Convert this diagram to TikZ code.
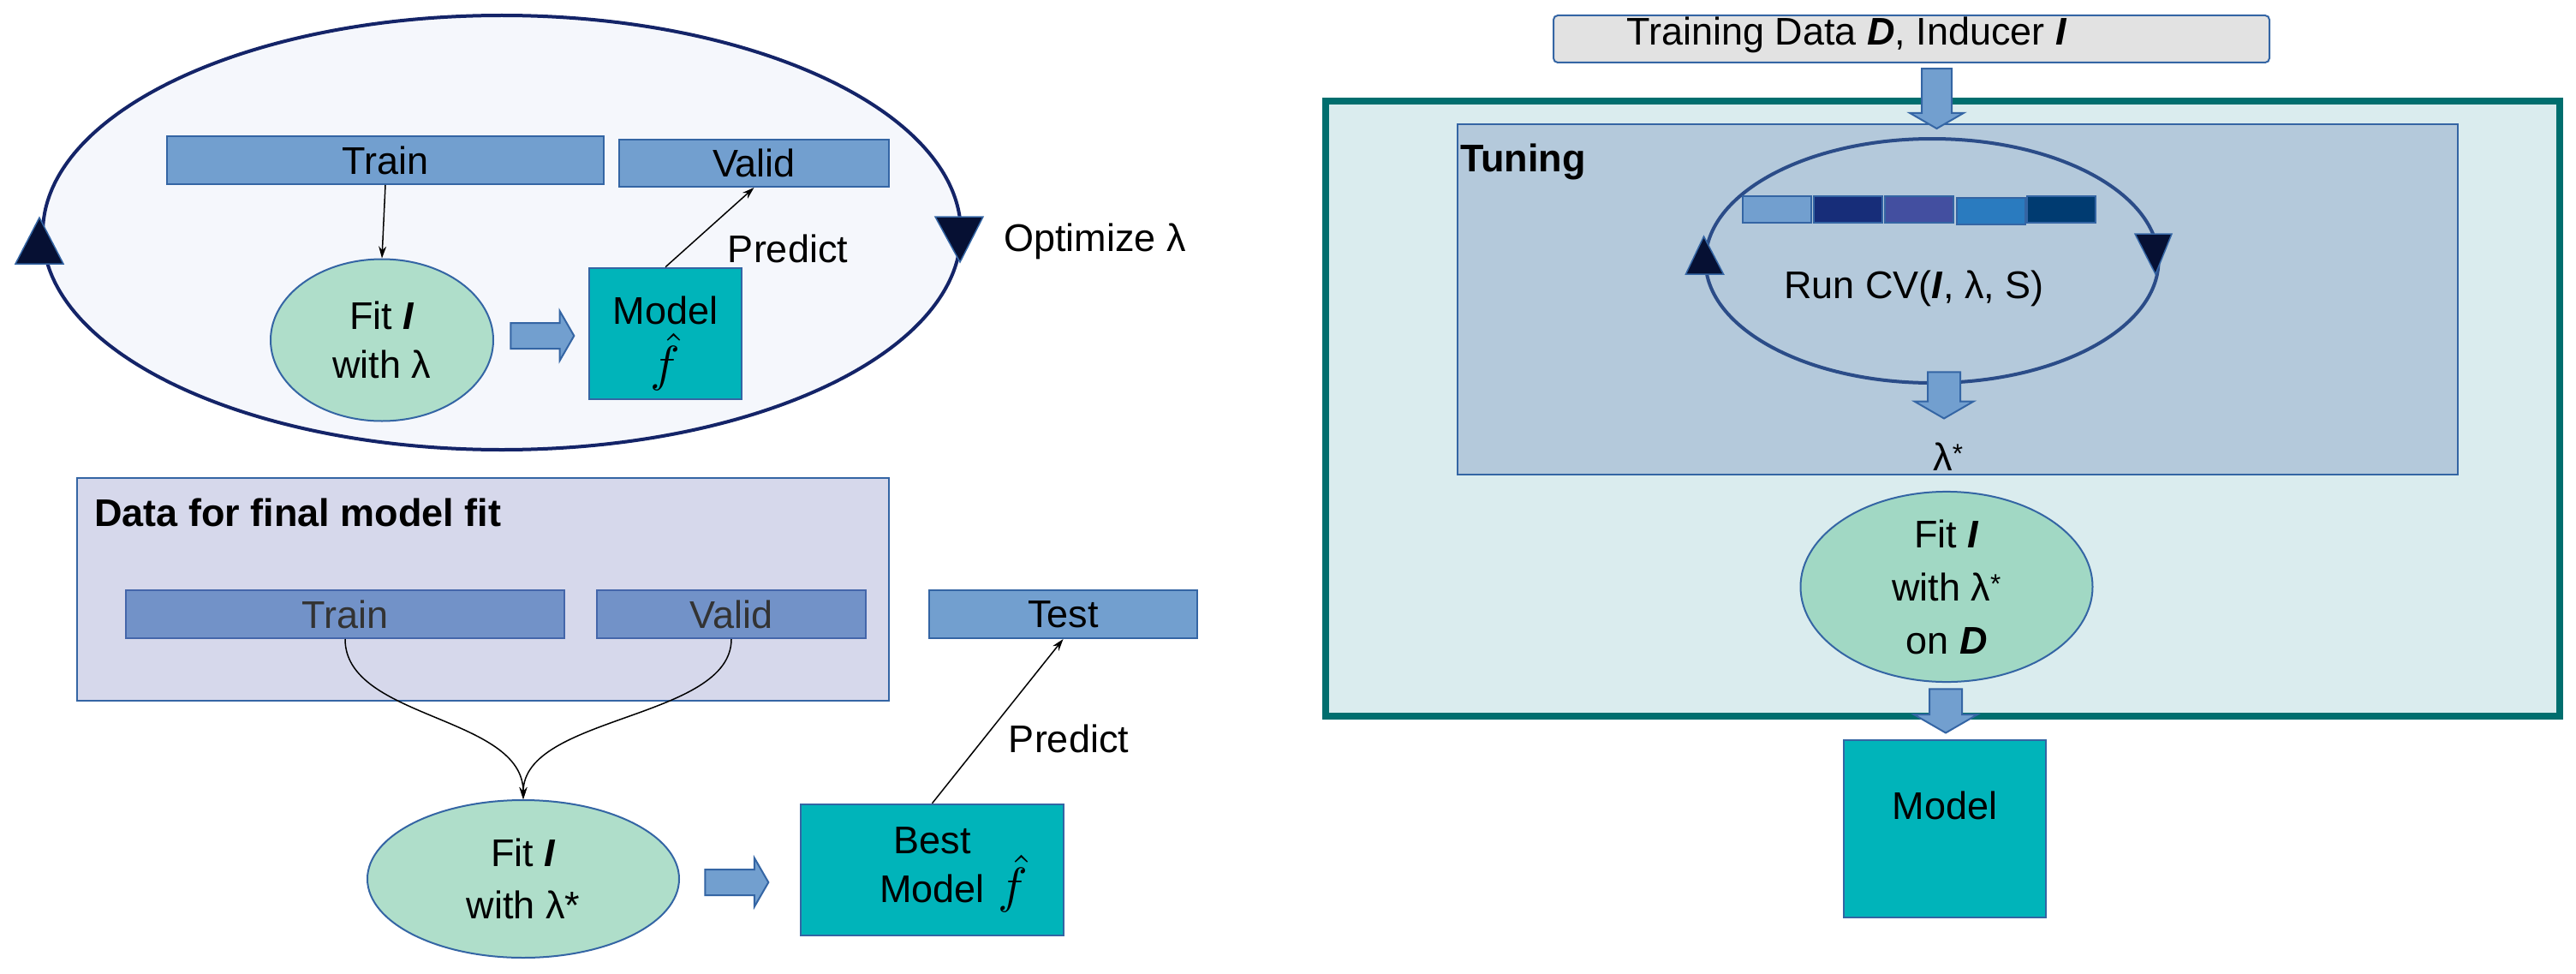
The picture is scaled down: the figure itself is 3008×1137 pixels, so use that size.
\documentclass[tikz,border=0pt]{standalone}
\usepackage{fontspec}
\setmainfont{Liberation Sans}
\usetikzlibrary{shapes.geometric,shapes.arrows,arrows.meta,calc}
\definecolor{loopfill}{HTML}{F5F7FC}
\definecolor{loopline}{HTML}{142468}
\definecolor{trifill}{HTML}{061033}
\definecolor{boxblue}{HTML}{729FCF}
\definecolor{boxborder}{HTML}{3465A4}
\definecolor{trainB}{HTML}{7292C8}
\definecolor{trainBline}{HTML}{4466AA}
\definecolor{datafill}{HTML}{D6D8EB}
\definecolor{fitgreen}{HTML}{AFDECA}
\definecolor{fitgreenR}{HTML}{A1D8C4}
\definecolor{modelteal}{HTML}{00B4BA}
\definecolor{outerfill}{HTML}{DAECEE}
\definecolor{outerline}{HTML}{006E6E}
\definecolor{innerfill}{HTML}{B4C9DB}
\definecolor{circline}{HTML}{2B4C88}
\definecolor{topfill}{HTML}{E2E2E2}
\definecolor{darktext}{HTML}{333333}
\definecolor{sqA}{HTML}{729FCF}
\definecolor{sqB}{HTML}{172D79}
\definecolor{sqC}{HTML}{434FA0}
\definecolor{sqD}{HTML}{2A7BBF}
\definecolor{sqE}{HTML}{003B71}
\newcommand{\bi}[1]{\textbf{\textit{#1}}}
\newcommand{\fhat}{\scalebox{5.8}{\fontsize{10}{12}\selectfont$\hat{f}$}}
\begin{document}
\begin{tikzpicture}[x=1pt,y=-1pt,
  every node/.style={font=\fontsize{45}{54}\selectfont, inner sep=0pt},
  loopell/.style={ellipse, draw=loopline, fill=loopfill, line width=4},
  tri/.style={fill=trifill, draw=boxborder, line width=1.5, line join=miter},
  bluebox/.style={rectangle, draw=boxborder, fill=boxblue, line width=2},
  bluebox2/.style={rectangle, draw=trainBline, fill=trainB, line width=2, text=darktext},
  fitell/.style={ellipse, draw=boxborder, fill=fitgreen, line width=2, align=center},
  modelbox/.style={rectangle, draw=boxborder, fill=modelteal, line width=2.5, align=center},
  thinarr/.style={-{Stealth[length=14,width=9]}, line width=1.5},
  fatarrow/.style={single arrow, draw=boxborder, fill=boxblue, line width=2,
     single arrow tip angle=120},
  harrow/.style={fatarrow, inner xsep=0pt},
  varrow/.style={fatarrow, inner ysep=0pt, shape border rotate=270},
  sq/.style={rectangle, draw=boxborder, line width=2, minimum width=80, minimum height=31}
]
\useasboundingbox (0,0) rectangle (3008,1137);

% ---------- top-left loop ----------
\node[loopell, minimum width=1072, minimum height=507] (loop1) at (586,271.5) {};
\filldraw[tri] ($(loop1.west)+(-30,36.5)$) -- ($(loop1.west)+(26,36.5)$) -- ($(loop1.west)+(-2,-17.5)$) -- cycle;
\filldraw[tri] ($(loop1.east)+(-32,-18.5)$) -- ($(loop1.east)+(24,-18.5)$) -- ($(loop1.east)+(-3,34.5)$) -- cycle;
\node[anchor=west] (optA) at (1172,282) {Optimize λ};

\node[bluebox, minimum width=510, minimum height=56] (trainA) at (450,187) {Train};
\node[bluebox, minimum width=315, minimum height=55] (validA) at (880.5,190.5) {Valid};
\node[fitell, minimum width=260, minimum height=189, font=\fontsize{45}{57}\selectfont] (fitA) at (446,397) {Fit \bi{I}\\with λ};
\node[modelbox, minimum width=178, minimum height=153] (modelA) at (777,389.5) {};
\node[align=center, font=\fontsize{45}{66}\selectfont] (modelAtext) at (777,401) {Model\\\fhat};
\node[harrow, minimum height=74, inner ysep=14, single arrow head extend=14] (arrA) at (629,392) {};
\draw[thinarr] (trainA.south) -- (fitA.north);
\draw[thinarr] (modelA.north) -- (validA.south);
\node (predA) at (920,290) {Predict};

% ---------- bottom-left ----------
\node[rectangle, draw=boxborder, fill=datafill, line width=2, minimum width=948, minimum height=260] (dataBox) at (564,688) {};
\node[anchor=west, font=\fontsize{45}{54}\selectfont\bfseries] (dataTitle) at (110,598) {Data for final model fit};
\node[bluebox2, minimum width=512, minimum height=56] (trainB) at (403,717) {Train};
\node[bluebox2, minimum width=314, minimum height=56] (validB) at (854,717) {Valid};
\node[bluebox, minimum width=313, minimum height=56] (testB) at (1241.5,717) {Test};
\node[fitell, minimum width=364, minimum height=184, font=\fontsize{45}{61}\selectfont] (fitB) at (611,1026) {Fit \bi{I}\\with λ*};
\node[modelbox, minimum width=307, minimum height=153, font=\fontsize{45}{56}\selectfont] (modelB) at (1088.5,1015.5) {Best\\Model\rlap{\hspace{16pt}\fhat}};
\node[harrow, minimum height=74, inner ysep=14, single arrow head extend=13.5] (arrB) at (856,1030) {};
\draw[thinarr] (trainB.south) .. controls (403,840) and (611,835) .. (fitB.north);
\draw[thinarr] (validB.south) .. controls (854,840) and (611,835) .. (fitB.north);
\draw[thinarr] (modelB.north) -- (testB.south);
\node (predB) at (1248,862) {Predict};

% ---------- right side ----------
\node[rectangle, rounded corners=5, draw=boxborder, fill=topfill, line width=2, minimum width=836, minimum height=55] (topBox) at (2232,45.5) {};
\node[anchor=west] (topText) at (1899,41) {Training Data \bi{D}, Inducer \bi{I}};
\node[rectangle, draw=outerline, fill=outerfill, line width=8, minimum width=1441, minimum height=718] (outerBox) at (2268.5,477) {};
\node[rectangle, draw=boxborder, fill=innerfill, line width=2.5, minimum width=1168, minimum height=409] (innerBox) at (2286,349.5) {};
\node[varrow, minimum height=70, inner xsep=16.5, single arrow head extend=14] (arrT) at (2261.5,110) {};
\node[anchor=west, font=\fontsize{45}{54}\selectfont\bfseries] (tuning) at (1705,189) {Tuning};

\node[ellipse, draw=circline, line width=4, minimum width=529, minimum height=285] (circ) at (2256,304.5) {};
\filldraw[tri] ($(circ.west)+(-21,15.5)$) -- ($(circ.west)+(23,15.5)$) -- ($(circ.west)+(0,-28.5)$) -- cycle;
\filldraw[tri] ($(circ.east)+(-29.5,-31.5)$) -- ($(circ.east)+(13.5,-31.5)$) -- ($(circ.east)+(-5.5,15.5)$) -- cycle;
\node[sq, fill=sqA] (sq1) at (2075,244.5) {};
\node[sq, fill=sqB] (sq2) at (2158,244.5) {};
\node[sq, fill=sqC] (sq3) at (2241,244.5) {};
\node[sq, fill=sqD] (sq4) at (2324.5,246.5) {};
\node[sq, fill=sqE] (sq5) at (2407,244.5) {};
\node (runcv) at (2235,337) {Run CV(\bi{I}, λ, S)};
\node[varrow, minimum height=54, inner xsep=18, single arrow head extend=15.5] (arr2) at (2270,456) {};
\node (lamstar) at (2275,533) {λ\textsuperscript{*}};

\node[ellipse, draw=boxborder, fill=fitgreenR, line width=2, align=center, minimum width=341, minimum height=215, font=\fontsize{45}{62}\selectfont] (fitC) at (2273,685) {Fit \bi{I}\\with λ\textsuperscript{*}\\on \bi{D}};
\node[varrow, minimum height=51, inner xsep=18, single arrow head extend=18] (arr3) at (2272,824.5) {};
\node[modelbox, minimum width=236, minimum height=207] (modelC) at (2271,967.5) {};
\node (modelCtext) at (2271,940) {Model};
\end{tikzpicture}
\end{document}
